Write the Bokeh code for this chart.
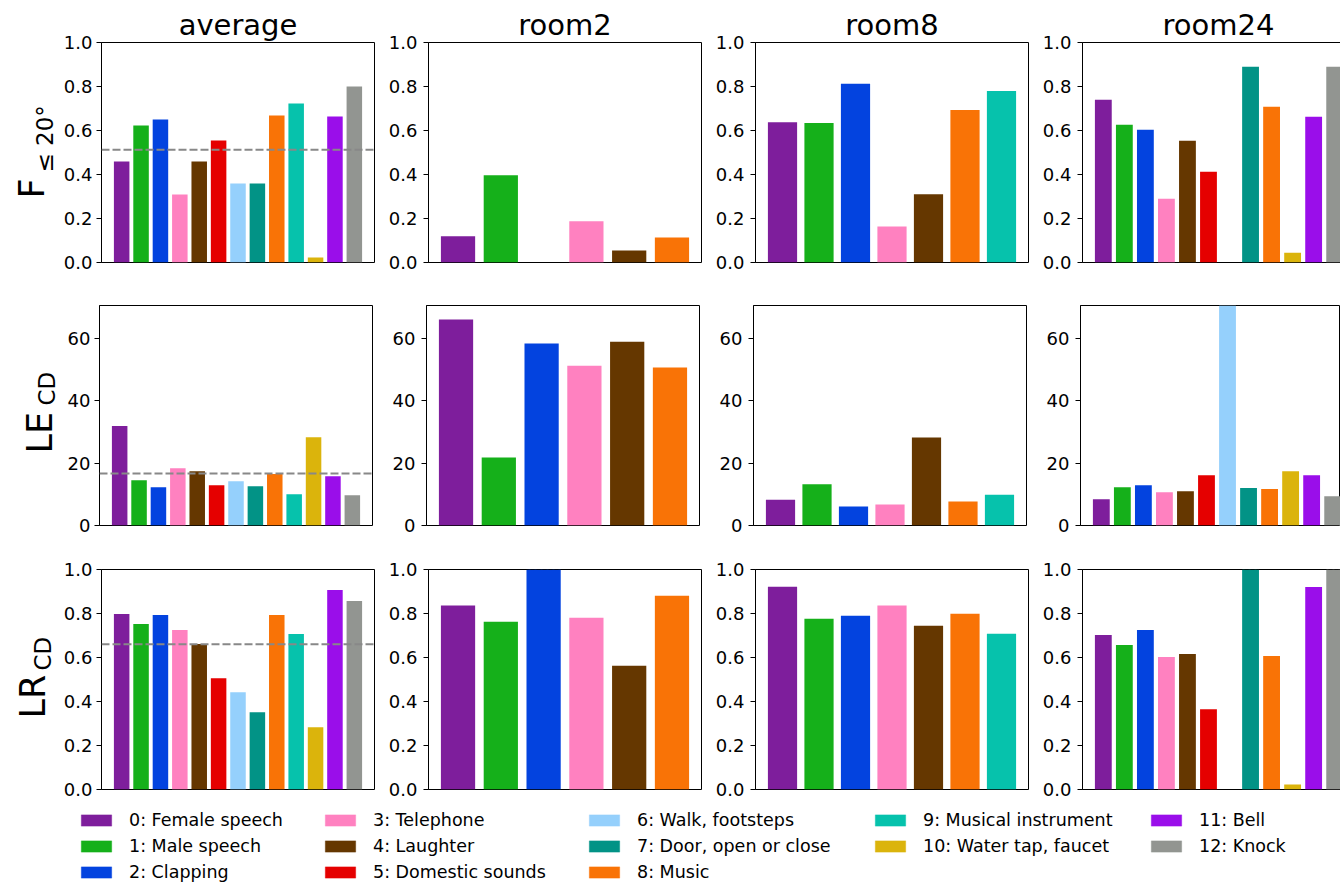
import numpy as np
from bokeh.plotting import figure
from bokeh.models import (Range1d, Span, Legend, LegendItem, ColumnDataSource,
                          FixedTicker, PrintfTickFormatter)
from bokeh.core.properties import value
from bokeh.layouts import column, row
from bokeh.embed import file_html
from bokeh.resources import INLINE

FONT = "DejaVu Sans"

class_names = ["0: Female speech", "1: Male speech", "2: Clapping", "3: Telephone",
               "4: Laughter", "5: Domestic sounds", "6: Walk, footsteps",
               "7: Door, open or close", "8: Music", "9: Musical instrument",
               "10: Water tap, faucet", "11: Bell", "12: Knock"]
class_colors = ["#7e1e9c", "#15b01a", "#0343df", "#ff81c0", "#653700", "#e50000",
                "#95d0fc", "#029386", "#f97306", "#06c2ac", "#dbb40c", "#9a0eea", "#929591"]

col_titles = ["average", "room2", "room8", "room24"]
avg_classes = [0, 1, 2, 3, 4, 5, 6, 7, 8, 9, 10, 11, 12]
room2_classes = [0, 1, 2, 3, 4, 8]
room8_classes = [0, 1, 2, 3, 4, 8, 9]
room24_classes = [0, 1, 2, 3, 4, 5, 6, 7, 8, 10, 11, 12]

f_avg = [0.459, 0.623, 0.650, 0.309, 0.459, 0.555, 0.359, 0.359, 0.668, 0.723, 0.023, 0.664, 0.800]
f_room2 = [0.119, 0.397, 0.0, 0.187, 0.055, 0.114]
f_room8 = [0.638, 0.634, 0.812, 0.164, 0.310, 0.693, 0.780]
f_room24 = [0.740, 0.626, 0.603, 0.290, 0.553, 0.412, 0.0, 0.890, 0.708, 0.044, 0.662, 0.890]

le_avg = [31.9, 14.5, 12.3, 18.4, 17.4, 12.9, 14.2, 12.6, 16.5, 10.0, 28.3, 15.8, 9.7]
le_room2 = [66.1, 21.8, 58.4, 51.3, 59.0, 50.7]
le_room8 = [8.3, 13.2, 6.1, 6.7, 28.2, 7.7, 9.9]
le_room24 = [8.4, 12.3, 12.9, 10.7, 11.0, 16.1, 80.0, 12.0, 11.7, 17.4, 16.1, 9.4]

lr_avg = [0.798, 0.752, 0.793, 0.725, 0.661, 0.506, 0.442, 0.351, 0.793, 0.707, 0.283, 0.907, 0.857]
lr_room2 = [0.836, 0.763, 1.0, 0.781, 0.562, 0.881]
lr_room8 = [0.922, 0.776, 0.790, 0.836, 0.744, 0.799, 0.708]
lr_room24 = [0.702, 0.657, 0.725, 0.602, 0.616, 0.365, 0.0, 1.0, 0.607, 0.023, 0.921, 1.0]

mean_lines = [0.512, 16.7, 0.660]
row_ymax = [1.0, 70.6, 1.0]
row_ticks = [[0, 0.2, 0.4, 0.6, 0.8, 1.0], [0, 20, 40, 60], [0, 0.2, 0.4, 0.6, 0.8, 1.0]]
row_fmt = ["%.1f", "%d", "%.1f"]

classes_per_col = [avg_classes, room2_classes, room8_classes, room24_classes]
values = [[f_avg, f_room2, f_room8, f_room24],
          [le_avg, le_room2, le_room8, le_room24],
          [lr_avg, lr_room2, lr_room8, lr_room24]]

# layout (pixels)
FW, FH = 273, 220
LABW = 60
col_bl = [39, 49, 49, 49]
col_br = [5, 5, 5, 0]
col_fw = [FW, FW, FW, 260]
row_bt = [42, 23, 24]
row_bb = [20, 20, 13]
col_standoff = [4, 6, 6, 6]

# y-label pieces: (main, sub, x_main, y_main, x_sub, y_sub) in label-panel pixels
ylabels = [("F", "≤ 20°", 31, 64, 44, 90),
           ("LE", "CD", 39, 72, 46, 120),
           ("LR", "CD", 32, 71, 42, 119)]

rows = []
for ri in range(3):
    # label panel
    lab = figure(frame_width=LABW, frame_height=FH, min_border_left=0, min_border_right=0,
                 min_border_top=row_bt[ri], min_border_bottom=row_bb[ri],
                 x_range=Range1d(0, LABW), y_range=Range1d(0, FH),
                 toolbar_location=None, output_backend="svg")
    lab.axis.visible = False
    lab.grid.visible = False
    lab.outline_line_color = None
    m, s, xm, ym, xs, ys = ylabels[ri]
    lab.text(x=[xm], y=[ym], text=[m], angle=np.pi / 2, text_align="left",
             text_baseline="middle", text_font=value(FONT),
             text_font_size=value("35px"), text_color="black")
    lab.text(x=[xs], y=[ys], text=[s], angle=np.pi / 2, text_align="left",
             text_baseline="middle", text_font=value(FONT),
             text_font_size=value("23px"), text_color="black")
    figs = [lab]
    for ci in range(4):
        cls = classes_per_col[ci]
        n = len(cls)
        margin = 0.05 * (n - 0.2)
        x0 = -0.4 - margin
        x1 = n - 1 + 0.4 + margin
        px_per_unit = FW / (x1 - x0)
        if ci == 3:
            x1 = x0 + col_fw[ci] / px_per_unit
        p = figure(frame_width=col_fw[ci], frame_height=FH,
                   min_border_left=col_bl[ci], min_border_right=col_br[ci],
                   min_border_top=row_bt[ri], min_border_bottom=row_bb[ri],
                   x_range=Range1d(x0, x1), y_range=Range1d(0, row_ymax[ri]),
                   toolbar_location=None, output_backend="svg")
        src = ColumnDataSource(dict(x=list(range(n)), top=values[ri][ci],
                                    color=[class_colors[k] for k in cls]))
        p.vbar(x="x", top="top", width=0.8, bottom=0, source=src,
               fill_color="color", line_color=None)
        p.xaxis.visible = False
        p.grid.visible = False
        p.outline_line_color = "black"
        p.outline_line_width = 1
        ax = p.yaxis[0]
        ax.ticker = FixedTicker(ticks=row_ticks[ri])
        ax.formatter = PrintfTickFormatter(format=row_fmt[ri])
        ax.major_label_text_font = FONT
        ax.major_label_text_font_size = "18px"
        ax.major_label_text_color = "black"
        ax.major_tick_out = 5
        ax.major_tick_in = 0
        ax.minor_tick_out = 0
        ax.minor_tick_in = 0
        ax.major_label_standoff = col_standoff[ci]
        ax.axis_line_color = "black"
        ax.major_tick_line_color = "black"
        if ri == 2:
            p.add_layout(Span(location=1.0, dimension="width", line_color="black",
                              line_dash="4 2", line_width=1))
        if ci == 0:
            p.add_layout(Span(location=mean_lines[ri], dimension="width",
                              line_color="#888888", line_dash="8 3", line_width=2))
        if ri == 0:
            p.title.text = col_titles[ci]
            p.title.text_font = FONT
            p.title.text_font_size = "29px"
            p.title.text_font_style = "normal"
            p.title.text_color = "black"
            p.title.standoff = 2
            if ci == 3:
                p.title.align = "left"
                p.title.offset = 80
            else:
                p.title.align = "center"
        figs.append(p)
    rows.append(row(*figs))

# legend figure
LW, LH = 1340, 80
lf = figure(width=LW, height=LH, min_border=0, x_range=Range1d(0, LW), y_range=Range1d(0, LH),
            toolbar_location=None, output_backend="svg")
lf.axis.visible = False
lf.grid.visible = False
lf.outline_line_color = None
rends = []
for k, c in enumerate(class_colors):
    # placeholder glyph outside the visible range, only used for the legend swatch
    rends.append(lf.vbar(x=[-100], top=[0], width=0.8, fill_color=c, line_color=c,
                         line_alpha=0.4))

leg_groups = [[0, 1, 2], [3, 4, 5], [6, 7, 8], [9, 10], [11, 12]]
leg_x = [77, 321, 585, 871, 1147]
for gi, grp in enumerate(leg_groups):
    items = [LegendItem(label=class_names[k], renderers=[rends[k]]) for k in grp]
    y_loc = 0 + (3 - len(grp)) * 26
    lg = Legend(items=items, location=(leg_x[gi], y_loc),
                orientation="vertical", glyph_width=38, glyph_height=14,
                label_standoff=14, spacing=5, padding=0, margin=0,
                label_height=21, border_line_color=None, background_fill_alpha=0,
                label_text_font=FONT, label_text_font_size="17.5px", label_text_color="black")
    lf.add_layout(lg)

layout = column(*rows, lf)
open("out.html", "w").write(file_html(layout, INLINE))
